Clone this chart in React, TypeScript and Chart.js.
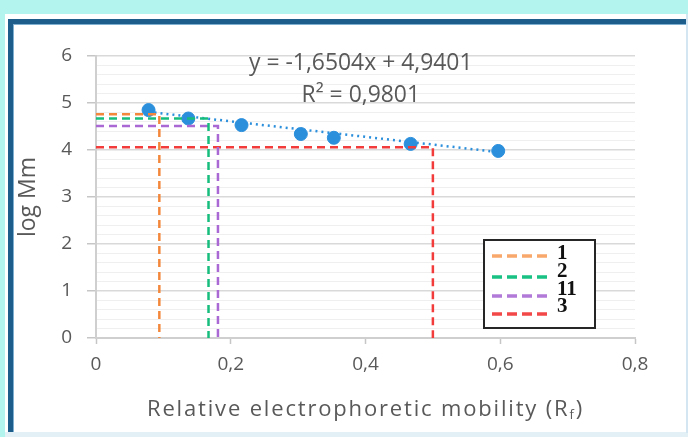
import React, { useEffect, useRef } from 'react';
import { Chart, registerables } from 'chart.js';

Chart.register(...registerables);

// Data
const mobility = [0.078, 0.137, 0.216, 0.304, 0.353, 0.467, 0.597];
const logMm = [4.85, 4.67, 4.53, 4.34, 4.26, 4.13, 3.98];
const trendX = [0.078, 0.597];
const trendY = [4.811, 3.955];
const guideLabels = ['1', '2', '11', '3'];
const guideRf = [0.094, 0.167, 0.181, 0.5];
const guideLogMm = [4.76, 4.67, 4.51, 4.06];
const guideColors = ['#F3883C', '#17BD7D', '#A968D3', '#F23C3C'];
const legendColors = ['#F9A86C', '#19C184', '#B27AD8', '#F24848'];
const xMin = 0;
const xMax = 0.8;
const xStep = 0.2;
const yMin = 0;
const yMax = 6;
const yMinorStep = 0.2;
const equationText = 'y = -1,6504x + 4,9401';
const r2Text = 'R² = 0,9801';
const xTitleMain = 'Relative electrophoretic mobility (R';
const xTitleSub = 'f';
const xTitleEnd = ')';
const yTitle = 'log Mm';

const FONT = '"Open Sans", Lato, sans-serif';
const GRAY = '#595959';

const isMajor = (v: number) => Math.abs(v - Math.round(v)) < 1e-6;

const fitSize = (ctx: CanvasRenderingContext2D, text: string, target: number) => {
  ctx.font = `20px ${FONT}`;
  return (20 * target) / ctx.measureText(text).width;
};

const overlayPlugin = {
  id: 'overlay',
  afterDatasetsDraw(chart: any) {
    const { ctx, chartArea, scales } = chart;
    const xs = scales.x;
    const ys = scales.y;
    ctx.save();
    // Trendline equation
    const eqSize = fitSize(ctx, equationText, 224);
    ctx.fillStyle = GRAY;
    ctx.textAlign = 'center';
    ctx.textBaseline = 'middle';
    ctx.font = `${eqSize.toFixed(1)}px ${FONT}`;
    const eqX = xs.getPixelForValue(0.393);
    ctx.fillText(equationText, eqX, ys.getPixelForValue(5.84));
    ctx.fillText(r2Text, eqX, ys.getPixelForValue(5.17));

    // X-axis title with subscript
    const mainFont = `22px ${FONT}`;
    const subFont = `13px ${FONT}`;
    const targetW = 437;
    const nChars = xTitleMain.length + xTitleSub.length + xTitleEnd.length;
    ctx.font = mainFont;
    let w0 = ctx.measureText(xTitleMain).width + ctx.measureText(xTitleEnd).width;
    ctx.font = subFont;
    w0 += ctx.measureText(xTitleSub).width;
    const ls = Math.max(0, (targetW - w0) / nChars);
    (ctx as any).letterSpacing = `${ls.toFixed(2)}px`;
    ctx.font = mainFont;
    const wMain = ctx.measureText(xTitleMain).width;
    const wEnd = ctx.measureText(xTitleEnd).width;
    ctx.font = subFont;
    const wSub = ctx.measureText(xTitleSub).width;
    const total = wMain + wSub + wEnd;
    const cx = xs.getPixelForValue(0.4);
    const ty = chartArea.bottom + 72;
    let tx = cx - total / 2;
    ctx.textAlign = 'left';
    ctx.font = mainFont;
    ctx.fillText(xTitleMain, tx, ty);
    tx += wMain;
    ctx.font = subFont;
    ctx.fillText(xTitleSub, tx, ty + 5);
    tx += wSub;
    ctx.font = mainFont;
    ctx.fillText(xTitleEnd, tx, ty);
    (ctx as any).letterSpacing = '0px';

    // Legend box
    const bl = chartArea.left + 388;
    const bt = chartArea.top + 184;
    const bw = 111;
    const bh = 88;
    ctx.fillStyle = '#ffffff';
    ctx.fillRect(bl, bt, bw, bh);
    ctx.lineWidth = 2;
    ctx.strokeStyle = '#262626';
    ctx.strokeRect(bl, bt, bw, bh);
    const rowsY = [16, 37, 56, 74];
    const labY = [14, 32, 50, 67];
    guideLabels.forEach((lab, i) => {
      ctx.beginPath();
      ctx.setLineDash([10, 5]);
      ctx.lineWidth = 3.5;
      ctx.strokeStyle = legendColors[i];
      ctx.moveTo(bl + 8, bt + rowsY[i]);
      ctx.lineTo(bl + 65, bt + rowsY[i]);
      ctx.stroke();
      ctx.setLineDash([]);
      ctx.fillStyle = '#111111';
      ctx.font = `bold 21px "Liberation Serif", serif`;
      ctx.textAlign = 'left';
      ctx.textBaseline = 'middle';
      ctx.fillText(lab, bl + 73, bt + labY[i]);
    });
    ctx.restore();
  },
};

export default function App() {
  const ref = useRef<HTMLCanvasElement>(null);
  useEffect(() => {
    const canvas = ref.current!;
    const datasets: any[] = [
      {
        label: 'log Mm',
        data: mobility.map((x, i) => ({ x, y: logMm[i] })),
        backgroundColor: '#2B8FDC',
        borderColor: '#2B8FDC',
        pointRadius: 6.5,
        pointHoverRadius: 6.5,
        showLine: false,
        order: 3,
      },
      {
        label: 'Linear trend',
        data: trendX.map((x, i) => ({ x, y: trendY[i] })),
        borderColor: '#2B8FDC',
        borderWidth: 2.5,
        borderDash: [2, 4],
        pointRadius: 0,
        showLine: true,
        order: 2,
      },
      ...guideLabels.map((lab, i) => ({
        label: lab,
        data: [
          { x: 0, y: guideLogMm[i] },
          { x: guideRf[i], y: guideLogMm[i] },
          { x: guideRf[i], y: 0 },
        ],
        borderColor: guideColors[i],
        backgroundColor: guideColors[i],
        borderWidth: 2.5,
        borderDash: [8, 5],
        pointRadius: 0,
        showLine: true,
        order: 1,
      })),
    ];
    const chart = new Chart(canvas, {
      type: 'scatter',
      data: { datasets },
      options: {
        responsive: false,
        animation: false,
        layout: { padding: { top: 56, right: 53, bottom: 0, left: 0 } },
        plugins: { legend: { display: false }, tooltip: { enabled: false } },
        scales: {
          x: {
            type: 'linear',
            min: xMin,
            max: xMax,
            ticks: {
              stepSize: xStep,
              color: GRAY,
              font: { family: FONT, size: 19 },
              padding: 9,
              callback: (v: any) => String(Number(Number(v).toFixed(1))).replace('.', ','),
            },
            grid: {
              drawOnChartArea: false,
              drawTicks: true,
              tickLength: 6,
              tickColor: '#c6c6c6',
              tickWidth: 1.5,
            },
            border: { display: true, color: '#cfcfcf', width: 2 },
            afterFit: (s: any) => {
              s.height = 99;
            },
          },
          y: {
            type: 'linear',
            min: yMin,
            max: yMax,
            ticks: {
              stepSize: yMinorStep,
              autoSkip: false,
              color: GRAY,
              font: { family: FONT, size: 19 },
              padding: 15,
              callback: (v: any) => (isMajor(Number(v)) ? String(Math.round(Number(v))) : ''),
            },
            grid: {
              color: (c: any) => (isMajor(c.tick.value) ? '#d9d9d9' : '#efefef'),
              lineWidth: (c: any) => (isMajor(c.tick.value) ? 1.5 : 1),
              tickColor: (c: any) => (isMajor(c.tick.value) ? '#c6c6c6' : 'rgba(0,0,0,0)'),
              tickLength: 9,
            },
            border: { display: true, color: '#cfcfcf', width: 2 },
            title: {
              display: true,
              text: yTitle,
              color: GRAY,
              font: { family: FONT, size: 23 },
              padding: { top: 15, bottom: 0 },
            },
            afterFit: (s: any) => {
              s.width = 96;
            },
          },
        },
      },
      plugins: [overlayPlugin],
    });
    return () => chart.destroy();
  }, []);

  return (
    <div
      style={{
        position: 'absolute',
        left: 0,
        top: 0,
        width: 688,
        height: 437,
        background: '#B3F5EE',
        overflow: 'hidden',
      }}
    >
      <div style={{ position: 'absolute', left: 5, top: 14, width: 683, height: 419, background: '#ffffff' }} />
      <div style={{ position: 'absolute', left: 5, top: 432, width: 683, height: 5, background: '#e3f0f6' }} />
      <div
        style={{
          position: 'absolute',
          left: 8,
          top: 19,
          width: 680,
          height: 413,
          borderLeft: '5px solid #1d5d8c',
          borderTop: '5px solid #1d5d8c',
          boxSizing: 'border-box',
        }}
      />
      <div style={{ position: 'absolute', left: 13, top: 24, width: 675, height: 1, background: '#7fb0d2' }} />
      <div style={{ position: 'absolute', left: 13, top: 24, width: 1, height: 408, background: '#7fb0d2' }} />
      <div style={{ position: 'absolute', left: 686, top: 14, width: 2, height: 419, background: '#d3e6f1' }} />
      <canvas
        ref={ref}
        width={688}
        height={437}
        style={{ position: 'absolute', left: 0, top: 0, width: 688, height: 437 }}
      />
    </div>
  );
}
